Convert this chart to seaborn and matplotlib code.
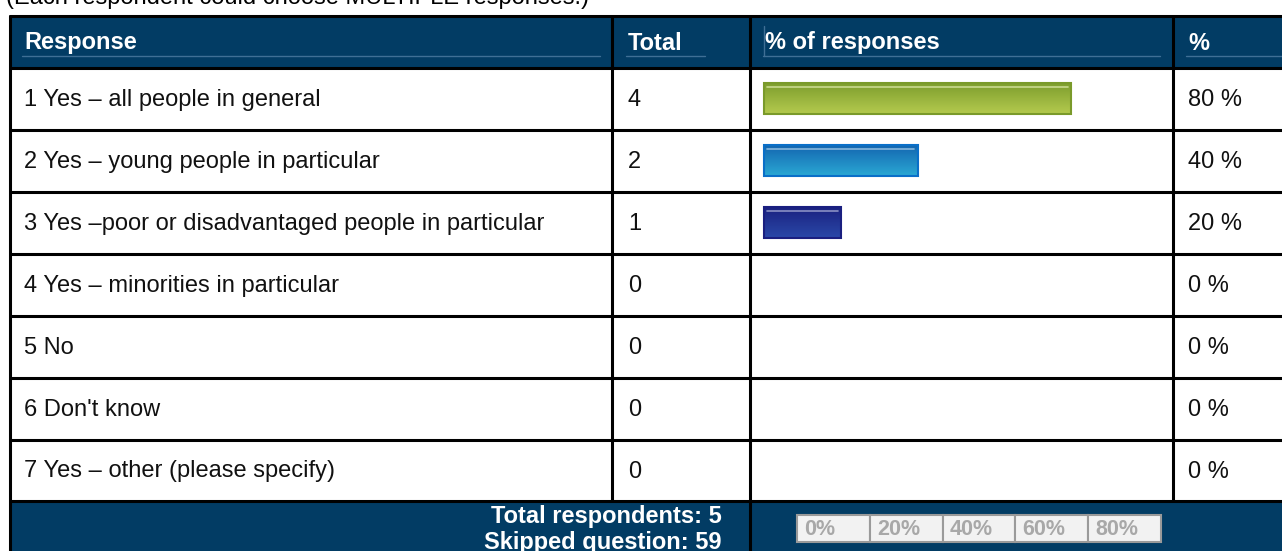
import numpy as np
import matplotlib
matplotlib.use("Agg")
import matplotlib.pyplot as plt
import matplotlib.colors as mcolors
import seaborn as sns

# survey table data
responses = ["1 Yes \u2013 all people in general",
             "2 Yes \u2013 young people in particular",
             "3 Yes \u2013poor or disadvantaged people in particular",
             "4 Yes \u2013 minorities in particular",
             "5 No",
             "6 Don't know",
             "7 Yes \u2013 other (please specify)"]
totals = [4, 2, 1, 0, 0, 0, 0]
pct = [80, 40, 20, 0, 0, 0, 0]
headers = ["Response", "Total", "% of responses", "%"]
scale_labels = ["0%", "20%", "40%", "60%", "80%"]
n_respondents = 5
n_skipped = 59

# bar colours: (top, bottom, edge, highlight)
bar_cols = [("#7e9e2e", "#b4ca4e", "#7a9a2a", "#c9d98e"),
            ("#1466b0", "#2aa8d4", "#0a6fc8", "#86b6dc"),
            ("#1b2280", "#2a48a8", "#1a1f80", "#8a90c4"),
            ("#ffffff", "#ffffff", "#ffffff", "#ffffff"),
            ("#ffffff", "#ffffff", "#ffffff", "#ffffff"),
            ("#ffffff", "#ffffff", "#ffffff", "#ffffff"),
            ("#ffffff", "#ffffff", "#ffffff", "#ffffff")]

sns.set_theme(style="white")
plt.rcParams["font.family"] = ["Liberation Sans", "DejaVu Sans"]

navy = "#023c64"
fs = 17
W, H = 1282, 551
fig = plt.figure(figsize=(W / 100, H / 100), dpi=100)
ax = fig.add_axes([0, 0, 1, 1])
ax.set_xlim(0, W)
ax.set_ylim(H, 0)
ax.axis("off")

col_x = [10, 612, 750, 1173, W]
top, head_bot = 16, 68
row_h = 62
row_y = [head_bot + i * row_h for i in range(len(responses) + 1)]
row_y[-1] = 501
foot_bot = H

# caption at top (mostly cut off, as in the original)
ax.text(6, 4, "(Each respondent could choose MULTIPLE responses.)", fontsize=fs,
        color="black", va="baseline", ha="left")

# header and footer fills
ax.add_patch(plt.Rectangle((col_x[0], top), W - col_x[0], head_bot - top, color=navy, lw=0))
ax.add_patch(plt.Rectangle((col_x[0], row_y[-1]), W - col_x[0], foot_bot - row_y[-1], color=navy, lw=0))

# header texts with faint underlines
head_tx = [24, 628, 765, 1188]
line_end = [600, 705, 1160, W]
for h, tx, le in zip(headers, head_tx, line_end):
    ax.text(tx, 43, h, color="white", fontsize=fs, fontweight="bold", va="center", ha="left")
    ax.plot([tx - 2, le], [56, 56], color="#3f6f95", lw=1)
ax.plot([764, 764], [26, 56], color="#3f6f95", lw=1)

# body rows
for i, (r, t, p) in enumerate(zip(responses, totals, pct)):
    yc = (row_y[i] + row_y[i + 1]) / 2 + 1
    ax.text(24, yc, r, fontsize=fs, va="center", ha="left", color="#111111")
    ax.text(628, yc, str(t), fontsize=fs, va="center", ha="left", color="#111111")
    ax.text(1188, yc, f"{p} %", fontsize=fs, va="center", ha="left", color="#111111")

# grid lines
lw = 2.2
ax.plot([col_x[0], W], [top, top], color="black", lw=lw)
for y in row_y:
    ax.plot([col_x[0], W], [y, y], color="black", lw=lw)
ax.plot([col_x[0], col_x[0]], [top, foot_bot], color="black", lw=lw)
for x in col_x[1:4]:
    ax.plot([x, x], [top, row_y[-1]], color="black", lw=lw)
ax.plot([750, 750], [row_y[-1], foot_bot], color="black", lw=lw)

# footer texts
ax.text(722, 517, f"Total respondents: {n_respondents}", color="white", fontsize=fs,
        fontweight="bold", ha="right", va="center")
ax.text(722, 543, f"Skipped question: {n_skipped}", color="white", fontsize=fs,
        fontweight="bold", ha="right", va="center")

# scale boxes in footer
sx0, sw, sy0, sh = 797, 72.8, 515, 27
for k, lab in enumerate(scale_labels):
    ax.add_patch(plt.Rectangle((sx0 + k * sw, sy0), sw, sh, facecolor="#f2f2f2",
                               edgecolor="#9a9a9a", lw=1.5))
    ax.text(sx0 + k * sw + 7, sy0 + sh / 2 + 1, lab, color="#a8a8a8", fontsize=15.5,
            fontweight="bold", ha="left", va="center")

# bar chart inside the "% of responses" column
bx0, bx1 = col_x[2], col_x[3]
bax = fig.add_axes([bx0 / W, (H - row_y[-1]) / H, (bx1 - bx0) / W, (row_y[-1] - head_bot) / H])
px_per = (1071 - 764) / 80.0
xmin = -(764 - bx0) / px_per
xmax = (bx1 - 764) / px_per

sns.barplot(x=pct, y=responses, hue=responses, orient="h", width=0.5,
            palette=[c[0] for c in bar_cols], legend=False, ax=bax, saturation=1)
bax.set_xlim(xmin, xmax)
bax.set_ylim(len(responses) - 0.5, -0.5)
bax.axis("off")
bax.patch.set_alpha(0)

for patch, cols in zip(bax.patches, bar_cols):
    w = patch.get_width()
    if w <= 0:
        patch.set_visible(False)
        continue
    x0, y0, h = patch.get_x(), patch.get_y(), patch.get_height()
    cmap = mcolors.LinearSegmentedColormap.from_list("g", [cols[0], cols[1]])
    grad = np.linspace(0, 1, 64).reshape(-1, 1)
    im = bax.imshow(grad, cmap=cmap, aspect="auto", origin="upper",
                    extent=(x0, x0 + w, y0 + h, y0), zorder=2)
    im.set_clip_path(patch)
    patch.set_facecolor("none")
    patch.set_edgecolor(cols[2])
    patch.set_linewidth(1.5)
    patch.set_zorder(3)
    bax.plot([x0 + 0.8, x0 + w - 0.8], [y0 + 0.06, y0 + 0.06], color=cols[3], lw=1.2, zorder=4)

bax.set_xlim(xmin, xmax)
bax.set_ylim(len(responses) - 0.5, -0.5)

fig.savefig("out.png", dpi=100)
